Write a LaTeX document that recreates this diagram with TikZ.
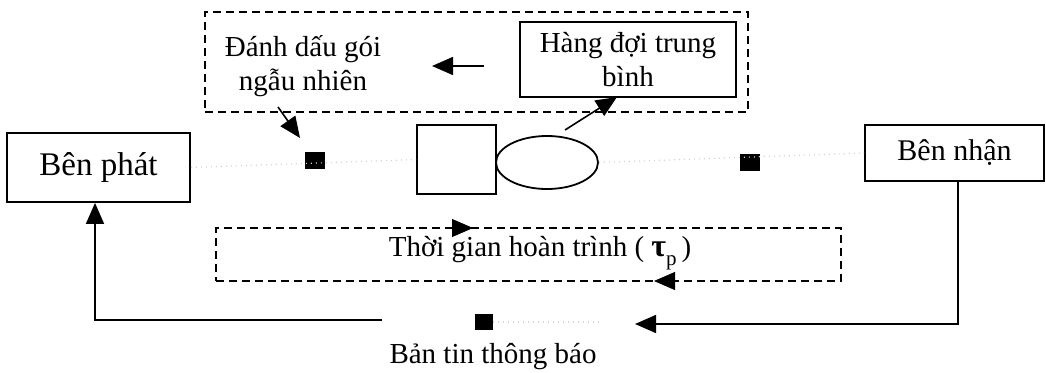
\documentclass[tikz,border=0pt]{standalone}
\usepackage{fontspec}
\setmainfont{Liberation Serif}
\usetikzlibrary{arrows.meta,shapes.geometric}
\begin{document}
\begin{tikzpicture}[x=1pt,y=-1pt,
  txt/.style={font=\fontsize{29}{34}\selectfont, inner sep=0pt},
  box/.style={draw, line width=1.8pt, inner sep=0pt, font=\fontsize{29}{34}\selectfont},
  dbox/.style={draw, line width=1.6pt, dash pattern=on 8pt off 5pt, inner sep=0pt},
  shp/.style={draw, line width=1.8pt, inner sep=0pt},
  arr/.style={line width=1.6pt, -{Triangle[length=21pt,width=18pt]}},
  tip/.style={line width=0.8pt, -{Triangle[length=21pt,width=18pt]}},
  pkt/.style={fill=black, inner sep=0pt, minimum width=20pt, minimum height=17pt},
  faint/.style={gray!35, line width=1.2pt, dash pattern=on 1pt off 4pt}]
\useasboundingbox (0,0) rectangle (1046,372);

% marking group (top dashed frame)
\node[dbox, minimum width=543pt, minimum height=100pt] (grp) at (476.5,62) {};
\node[txt, align=center] (mark) at (303,66) {Đánh dấu gói\\ngẫu nhiên};
\node[box, align=center, minimum width=216pt, minimum height=75pt] (avg) at (628,59.5) {Hàng đợi trung\\bình};

% router: buffer and server
\node[shp, minimum width=79pt, minimum height=69pt] (q) at (456.5,159.5) {};
\node[shp, ellipse, minimum width=102pt, minimum height=53pt] (srv) at (547,162.5) {};

% end points
\node[box, minimum width=183pt, minimum height=69pt, font=\fontsize{33}{38}\selectfont] (tx) at (98.5,167.5) {Bên phát};
\node[box, minimum width=179pt, minimum height=56pt, font=\fontsize{30}{35}\selectfont] (rx) at (954.5,153) {Bên nhận};

% packets
\node[pkt] (p1) at (314.5,160) {};
\node[pkt] (p2) at (750,162) {};
\node[pkt, minimum width=18pt, minimum height=16pt] (p3) at (484,322) {};

% round-trip time frame
\node[dbox, minimum width=625pt, minimum height=53pt] (rtt) at (528.5,254.5) {};
\node[txt] (rttl) at (540,253) {Thời gian hoàn trình ( {\bfseries\fontsize{32}{34}\selectfont τ}\raisebox{-9pt}{\fontsize{21}{21}\selectfont p}\,)};
\node[txt] (msg) at (493,357) {Bản tin thông báo};

% faint data path
\draw[faint] (tx.east) -- (q.west);
\draw[faint] (srv.east) -- (rx.west);
\draw[faint] (p3.east) -- (600,322);

% connectors
\coordinate (markfoot) at (278,107);
\coordinate (marktip) at (300,138);
\draw[arr] (markfoot) -- (marktip);

\coordinate (qfoot) at (565,130);
\coordinate (avgin) at (617,97);
\draw[arr] (qfoot) -- (avgin);

\coordinate (a1) at (484,66);
\coordinate (a2) at (432,66);
\draw[arr] (a1) -- (a2);

\coordinate (rxdown) at (958,324);
\coordinate (msgR) at (635,324);
\draw[arr] (rx.south -| rxdown) -- (rxdown) -- (msgR);

\coordinate (msgL) at (382,320);
\coordinate (txdown) at (95,320);
\draw[arr] (msgL) -- (txdown) -- (tx.south -| txdown);

% direction marks on the round-trip frame
\coordinate (r1) at (452,228);
\coordinate (r2) at (473,228);
\draw[tip] (r1) -- (r2);
\coordinate (r3) at (676,281);
\coordinate (r4) at (654,281);
\draw[tip] (r3) -- (r4);
\end{tikzpicture}
\end{document}
